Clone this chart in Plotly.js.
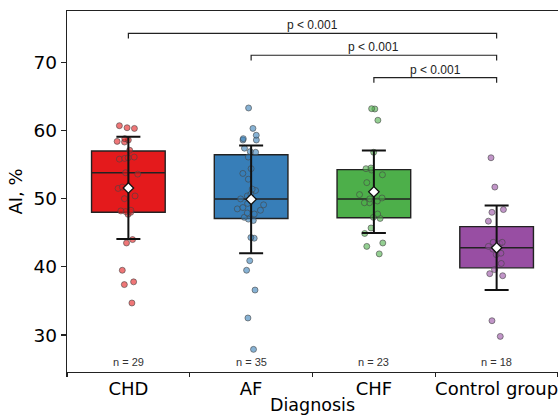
<!DOCTYPE html>
<html>
<head>
<meta charset="utf-8">
<script src="https://cdn.plot.ly/plotly-3.0.1.min.js"></script>
<style>html,body{margin:0;padding:0;background:#fff;}#chart{width:558px;height:416px;}</style>
</head>
<body>
<div id="chart"></div>
<script>
// ---- data ----
const categories = ["CHD", "AF", "CHF", "Control group"];
const colors = ["#e41a1c", "#377eb8", "#4daf4a", "#984ea3"];
const nLabels = ["n = 29", "n = 35", "n = 23", "n = 18"];

const chdValues = [60.7, 60.3, 60.4, 58.4, 58.3, 58.8, 58.6, 57.1, 56.1, 56.0, 55.8, 55.9, 53.8, 53.6, 51.7, 51.5, 50.4, 50.0, 48.3, 48.0, 48.2, 48.1, 47.7, 44.0, 43.5, 39.5, 37.4, 37.8, 34.7];
const afValues = [63.3, 60.3, 59.3, 58.8, 58.6, 58.6, 57.4, 56.9, 56.8, 56.1, 54.4, 53.7, 52.85, 51.4, 51.2, 50.4, 50.65, 49.96, 49.3, 49.1, 48.7, 48.5, 48.3, 47.9, 47.75, 47.26, 47.0, 46.8, 44.2, 44.3, 40.9, 39.5, 36.6, 32.5, 27.9];
const chfValues = [63.15, 63.2, 61.5, 56.8, 54.2, 54.4, 54.5, 53.5, 52.35, 50.6, 50.1, 49.96, 49.66, 49.4, 49.4, 47.75, 47.1, 47.26, 45.7, 44.9, 43.5, 43.0, 41.9];
const controlValues = [56.0, 51.7, 48.4, 48.0, 46.7, 43.6, 43.4, 43.6, 43.0, 42.6, 42.0, 41.8, 40.5, 39.6, 39.0, 38.7, 32.1, 29.8];

const q1 = [48.0, 47.1, 47.2, 39.85];
const median = [53.8, 49.96, 49.96, 42.8];
const q3 = [57.0, 56.43, 54.26, 45.9];
const means = [51.57, 49.9, 51.0, 42.8];
const sds = [7.5, 7.9, 6.05, 6.2];

const bracketFrom = ["CHD", "AF", "CHF"];
const bracketTo = ["Control group", "Control group", "Control group"];
const bracketY = [74.25, 71.03, 67.76];
const bracketText = ["p < 0.001", "p < 0.001", "p < 0.001"];
const nLabelY = 26.0;

const groupValues = [chdValues, afValues, chfValues, controlValues];

function rgba(hex, a) {
  const r = parseInt(hex.slice(1,3),16), g = parseInt(hex.slice(3,5),16), b = parseInt(hex.slice(5,7),16);
  return `rgba(${r},${g},${b},${a})`;
}

const traces = [];
// boxes (Q1, median, Q3 only)
categories.forEach((c, i) => {
  traces.push({
    type: "box",
    x: [c],
    q1: [q1[i]], median: [median[i]], q3: [q3[i]],
    lowerfence: [q1[i]], upperfence: [q3[i]],
    width: 0.6,
    whiskerwidth: 0,
    fillcolor: colors[i],
    line: {color: "#222", width: 1.4},
    boxpoints: false,
    hoverinfo: "skip",
    showlegend: false
  });
});
// jittered points
categories.forEach((c, i) => {
  traces.push({
    type: "box",
    x: groupValues[i].map(() => c),
    y: groupValues[i],
    width: 0.6,
    boxpoints: "all",
    jitter: 0.4,
    pointpos: 0,
    fillcolor: "rgba(0,0,0,0)",
    line: {color: "rgba(0,0,0,0)", width: 0},
    marker: {color: rgba(colors[i], 0.6), size: 6, line: {color: "rgba(70,70,70,0.6)", width: 1}},
    hoverinfo: "skip",
    showlegend: false
  });
});
// mean +- SD
traces.push({
  type: "scatter",
  mode: "markers",
  x: categories,
  y: means,
  error_y: {type: "data", array: sds, visible: true, color: "#111", thickness: 2, width: 12},
  marker: {symbol: "diamond", size: 8, color: "#fff", line: {color: "#111", width: 1.3}},
  hoverinfo: "skip",
  showlegend: false
});

const shapes = [];
const annotations = [];
const drop = 0.78;
bracketFrom.forEach((f, k) => {
  const x0 = categories.indexOf(f), x1 = categories.indexOf(bracketTo[k]);
  const y = bracketY[k];
  shapes.push({
    type: "path", xref: "x", yref: "y",
    path: `M ${x0} ${y - drop} L ${x0} ${y} L ${x1} ${y} L ${x1} ${y - drop}`,
    line: {color: "#222", width: 1.2}
  });
  annotations.push({
    x: (x0 + x1) / 2, y: y, xref: "x", yref: "y", text: bracketText[k],
    showarrow: false, yanchor: "bottom", yshift: -1,
    font: {family: "Liberation Sans, Arial, sans-serif", size: 12, color: "#222"}
  });
});
categories.forEach((c, i) => {
  annotations.push({
    x: i, y: nLabelY, xref: "x", yref: "y", text: nLabels[i], showarrow: false,
    font: {family: "Liberation Sans, Arial, sans-serif", size: 11, color: "#333"}
  });
});
// x-axis title placed in paper space (matches reference position)
annotations.push({
  x: 0.5, y: -0.092, xref: "paper", yref: "paper", xanchor: "center", yanchor: "middle",
  text: "Diagnosis", showarrow: false,
  font: {size: 17.5, family: "DejaVu Sans, sans-serif", color: "#000"}
});

const layout = {
  width: 558, height: 416,
  margin: {l: 67, r: 0, t: 11, b: 44},
  paper_bgcolor: "#fff", plot_bgcolor: "#fff",
  boxmode: "overlay",
  font: {family: "DejaVu Sans, sans-serif", color: "#000"},
  xaxis: {
    type: "category", categoryorder: "array", categoryarray: categories,
    range: [-0.5, 3.5], tickson: "boundaries", tickangle: 0, automargin: false,
    showline: true, mirror: true, linecolor: "#222", linewidth: 1.2,
    ticks: "outside", ticklen: 4, tickcolor: "#222", tickwidth: 1.2,
    showgrid: false, zeroline: false,
    tickfont: {size: 18, family: "DejaVu Sans, sans-serif", color: "#000"}
  },
  yaxis: {
    range: [24.58, 77.52], tickvals: [30, 40, 50, 60, 70], automargin: false,
    showline: true, linecolor: "#222", linewidth: 1.2,
    ticks: "outside", ticklen: 5, tickcolor: "#222", tickwidth: 1.2,
    showgrid: false, zeroline: false,
    tickfont: {size: 18.5, family: "DejaVu Sans, sans-serif", color: "#000"},
    title: {text: "AI, %", font: {size: 18, family: "DejaVu Sans, sans-serif", color: "#000"}, standoff: 6}
  },
  shapes: shapes,
  annotations: annotations,
  showlegend: false
};

Plotly.newPlot("chart", traces, layout, {staticPlot: true, displayModeBar: false});
</script>
</body>
</html>
